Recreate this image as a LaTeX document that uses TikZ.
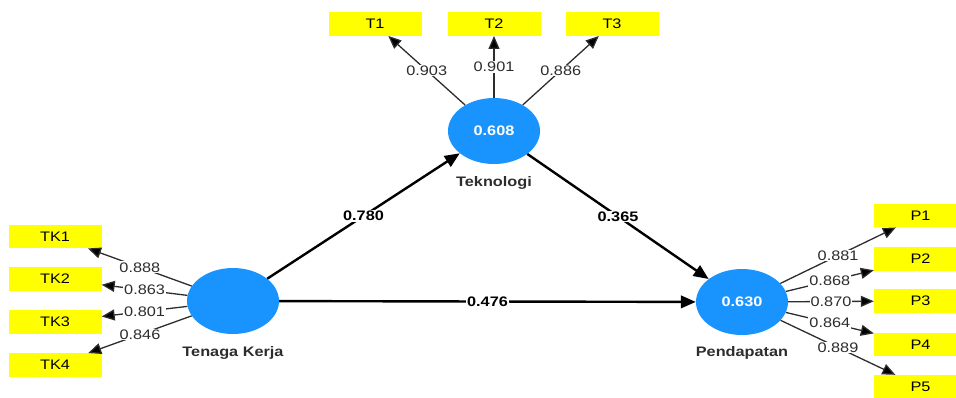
\documentclass[tikz,border=0pt]{standalone}
\usepackage{fontspec}
\setmainfont{Liberation Sans}[FakeStretch=1.18]
\usetikzlibrary{shapes.geometric,arrows.meta}
\definecolor{lvblue}{RGB}{25,148,255}
\definecolor{mvyellow}{RGB}{255,255,0}
\definecolor{ink}{RGB}{45,45,45}
\begin{document}
\begin{tikzpicture}[x=1pt,y=-1pt,
  every node/.style={font=\fontsize{13.8}{15}\selectfont},
  lv/.style={ellipse, fill=lvblue, minimum width=92pt, minimum height=66pt,
    inner sep=0pt, text=white, font=\fontsize{13.8}{15}\selectfont\bfseries},
  mv/.style={rectangle, fill=mvyellow, minimum width=93pt, minimum height=23.5pt,
    inner sep=0pt, text=black},
  lvname/.style={text=ink, font=\fontsize{13.8}{15}\selectfont\bfseries},
  loading/.style={draw=ink, line width=1.3pt,
    -{Triangle[length=13pt,width=11pt,fill=black]}},
  struct/.style={draw=black, line width=2.4pt, -{Triangle[length=15pt,width=12.5pt]}},
  lw/.style={fill=white, inner sep=1pt, text=ink},
  pc/.style={fill=white, inner sep=1pt, text=black,
    font=\fontsize{13.8}{15}\selectfont\bfseries}
]
\useasboundingbox (0,0) rectangle (956,397);
\clip (0,0) rectangle (956,397);

% latent variables
\node[lv] (tk)  at (233,301) {};
\node[lv] (tek) at (494,131) {0.608};
\node[lv] (pen) at (742,302) {0.630};
\node[lvname] (tkname)  at (233,353) {Tenaga Kerja};
\node[lvname] (tekname) at (494,183) {Teknologi};
\node[lvname] (penname) at (742,353) {Pendapatan};

% indicators
\node[mv] (tk1) at (55,236.5) {TK1};
\node[mv] (tk2) at (55,279) {TK2};
\node[mv] (tk3) at (55,322) {TK3};
\node[mv] (tk4) at (55,365) {TK4};
\node[mv] (t1) at (375,24) {T1};
\node[mv] (t2) at (494,24) {T2};
\node[mv] (t3) at (612,24) {T3};
\node[mv] (p1) at (920.5,215.5) {P1};
\node[mv] (p2) at (920.5,259) {P2};
\node[mv] (p3) at (920.5,301) {P3};
\node[mv] (p4) at (920.5,344.5) {P4};
\node[mv] (p5) at (920.5,386.75) {P5};

% outer loadings
\draw[loading] (tk) -- node[lw] {0.888} (tk1);
\draw[loading] (tk) -- node[lw] {0.863} (tk2);
\draw[loading] (tk) -- node[lw] {0.801} (tk3);
\draw[loading] (tk) -- node[lw] {0.846} (tk4);
\draw[loading] (tek) -- node[lw] {0.903} (t1);
\draw[loading] (tek) -- node[lw] {0.901} (t2);
\draw[loading] (tek) -- node[lw] {0.886} (t3);
\draw[loading] (pen) -- node[lw] {0.881} (p1);
\draw[loading] (pen) -- node[lw] {0.868} (p2);
\draw[loading] (pen) -- node[lw] {0.870} (p3);
\draw[loading] (pen) -- node[lw] {0.864} (p4);
\draw[loading] (pen) -- node[lw] {0.889} (p5);

% path coefficients
\draw[struct] (tk) -- node[pc] {0.780} (tek);
\draw[struct] (tek) -- node[pc] {0.365} (pen);
\draw[struct] (tk) -- node[pc] {0.476} (pen);
\end{tikzpicture}
\end{document}
